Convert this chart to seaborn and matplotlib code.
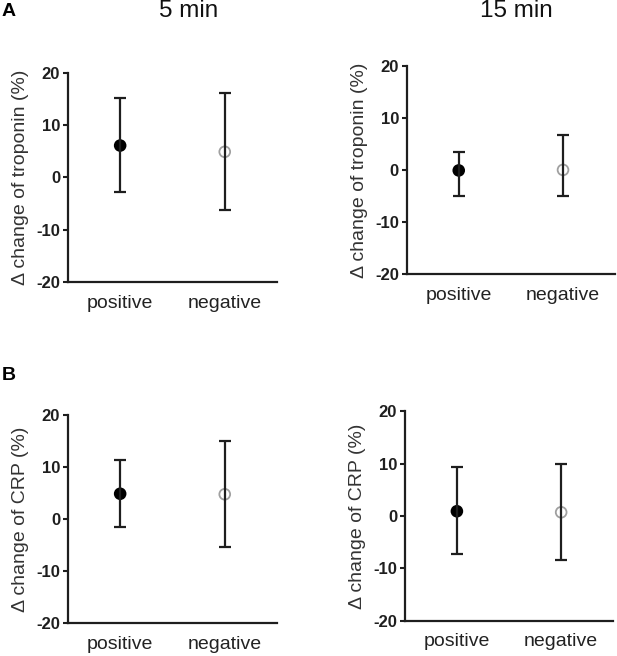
import matplotlib
matplotlib.use('Agg')
import matplotlib.pyplot as plt
import seaborn as sns
import pandas as pd
import numpy as np

# values (percent change)
groups = ['positive', 'negative']

trop5_mean = [6.1, 4.9]
trop5_lo = [-2.8, -6.2]
trop5_hi = [15.1, 16.1]

trop15_mean = [-0.1, 0.0]
trop15_lo = [-5.0, -5.0]
trop15_hi = [3.4, 6.6]

crp5_mean = [4.9, 4.8]
crp5_lo = [-1.4, -5.3]
crp5_hi = [11.3, 15.0]

crp15_mean = [0.9, 0.7]
crp15_lo = [-7.2, -8.5]
crp15_hi = [9.4, 10.0]

yticks = [-20, -10, 0, 10, 20]

sns.set_theme(style='ticks')
plt.rcParams['font.family'] = ['Liberation Sans', 'DejaVu Sans']
plt.rcParams['axes.unicode_minus'] = False

fig = plt.figure(figsize=(6.17, 6.56), dpi=100)

rects = {
    'a5': [0.110, 0.570, 0.339, 0.319],
    'a15': [0.659, 0.582, 0.338, 0.318],
    'b5': [0.110, 0.050, 0.339, 0.317],
    'b15': [0.656, 0.054, 0.338, 0.319],
}


def panel(rect, mean, lo, hi, ylabel):
    ax = fig.add_axes(rect)
    df = pd.DataFrame({'group': groups, 'mean': mean, 'lo': lo, 'hi': hi})
    pos = np.arange(len(df))
    sns.scatterplot(data=df, x='group', y='mean', hue='group',
                    palette={'positive': 'black', 'negative': 'white'},
                    edgecolor=['black', '#a0a0a0'], linewidth=1.3,
                    s=60, legend=False, zorder=2, ax=ax)
    ax.errorbar(pos, df['mean'],
                yerr=[df['mean'] - df['lo'], df['hi'] - df['mean']],
                fmt='none', ecolor='#1e1e1e', elinewidth=1.6,
                capsize=4, capthick=1.6, zorder=3)
    ax.set_xlim(-0.5, 1.5)
    ax.set_ylim(-20, 20)
    ax.set_yticks(yticks)
    ax.set_xlabel('')
    ax.set_ylabel(ylabel, fontsize=14, color='#333333', labelpad=5)
    sns.despine(ax=ax)
    for s in ['left', 'bottom']:
        ax.spines[s].set_linewidth(1.6)
        ax.spines[s].set_color('#1e1e1e')
    ax.tick_params(axis='y', length=3.5, width=1.5, pad=2, labelsize=12,
                   color='#1e1e1e', labelcolor='#1e1e1e')
    for t in ax.get_yticklabels():
        t.set_fontweight('bold')
    ax.tick_params(axis='x', length=0, pad=9, labelsize=14, labelcolor='#222222')
    ax.set_facecolor('white')
    return ax


panel(rects['a5'], trop5_mean, trop5_lo, trop5_hi, '\u0394 change of troponin (%)')
panel(rects['a15'], trop15_mean, trop15_lo, trop15_hi, '\u0394 change of troponin (%)')
panel(rects['b5'], crp5_mean, crp5_lo, crp5_hi, '\u0394 change of CRP (%)')
panel(rects['b15'], crp15_mean, crp15_lo, crp15_hi, '\u0394 change of CRP (%)')

fig.text(0.306, 0.983, '5 min', ha='center', va='center', fontsize=17.5, color='#111111')
fig.text(0.837, 0.983, '15 min', ha='center', va='center', fontsize=17.5, color='#111111')
fig.text(0.003, 0.983, 'A', ha='left', va='center', fontsize=14, fontweight='bold', color='black')
fig.text(0.003, 0.427, 'B', ha='left', va='center', fontsize=14, fontweight='bold', color='black')

fig.savefig('out.png', dpi=100, facecolor='white')
